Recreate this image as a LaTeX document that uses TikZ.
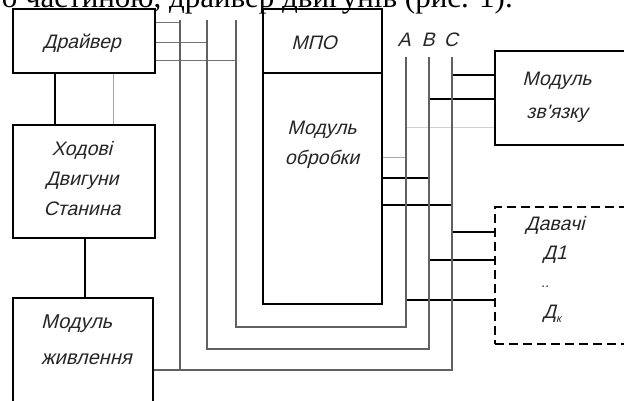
\documentclass[tikz,border=0pt]{standalone}
\usepackage{fontspec}
\setmainfont{Liberation Serif}
\newfontfamily\gost[FakeSlant=0.25]{Liberation Sans}
\begin{document}
\begin{tikzpicture}[x=1pt,y=-1pt,
  box/.style={draw=black, line width=1.3pt, inner sep=0pt},
  dbox/.style={draw=black, line width=1.3pt, inner sep=0pt, dash pattern=on 9pt off 5pt},
  lbl/.style={font=\gost\fontsize{19.5}{30}\selectfont, align=center, inner sep=0pt, text=black!85},
  bus/.style={line width=2.3pt, draw=black!62},
  bw/.style={line width=1.1pt, draw=black},
  fw/.style={line width=1pt, draw=black!55},
  lw/.style={line width=0.8pt, draw=black!35},
  vw/.style={line width=0.7pt, draw=black!18}]
\path[use as bounding box, clip] (0,0) rectangle (624,401);
\fill[white] (0,0) rectangle (624,401);

% cut top text line
\node[anchor=base east, inner sep=0pt, font=\fontsize{31}{33}\selectfont] (toptext) at (513,7.5) {о частиною, драйвер двигунів (рис. 1).};

% boxes
\node[box, minimum width=142pt, minimum height=64pt] (drv) at (84,41) {};
\node[box, minimum width=142pt, minimum height=113pt] (hod) at (84,181.5) {};
\node[box, minimum width=140pt, minimum height=122pt] (pwr) at (83,359) {};
\node[box, minimum width=119pt, minimum height=64pt] (mpoh) at (322.5,41) {};
\node[box, minimum width=119pt, minimum height=231pt] (mpob) at (322.5,188.5) {};
\node[box, minimum width=145pt, minimum height=94pt] (mz) at (567.5,98) {};
\node[dbox, minimum width=145pt, minimum height=137pt] (dv) at (567.5,275.5) {};

% labels
\node[lbl] (tdrv) at (82,43) {Драйвер};
\node[lbl] (thod) at (82,179) {Ходові\\Двигуни\\Станина};
\node[lbl, align=left, anchor=north west, font=\gost\fontsize{20}{36}\selectfont] (tpwr) at (41,315) {Модуль\\живлення};
\node[lbl] (tmpo) at (314,43) {МПО};
\node[lbl] (tmpob) at (322,145) {Модуль\\обробки};
\node[lbl, font=\gost\fontsize{19.5}{33}\selectfont] (tmz) at (557,97) {Модуль\\зв'язку};
\node[lbl, font=\gost\fontsize{19.5}{29}\selectfont] (tdv) at (555,240) {Давачі\\Д1};
\node[lbl, font=\gost\fontsize{14}{14}\selectfont] (tdots) at (545,287) {..};
\node[lbl] (tdk) at (552,314) {Д\raisebox{-4pt}{\fontsize{11}{11}\selectfont к}};
\node[lbl] (tA) at (404,40) {A};
\node[lbl] (tB) at (428,40) {B};
\node[lbl] (tC) at (451,40) {C};

% bus coordinates
\coordinate (t1) at (180,20);
\coordinate (t2) at (207,20);
\coordinate (t3) at (236,20);
\coordinate (a0) at (406,57);
\coordinate (b0) at (429,57);
\coordinate (c0) at (452,57);
\coordinate (a1) at (406,327);
\coordinate (b1) at (429,349);
\coordinate (c1) at (452,370);

% thin wires
\draw[bw] (drv.south -| 55,0) -- (hod.north -| 55,0);
\draw[lw] (drv.south -| 113,0) -- (hod.north -| 113,0);
\draw[bw] (hod.south -| 85,0) -- (pwr.north -| 85,0);

\draw[fw] (drv.east |- 0,23) -- (t1 |- 0,23);
\draw[fw] (drv.east |- 0,43) -- (t2 |- 0,43);
\draw[fw] (drv.east |- 0,61) -- (t3 |- 0,61);

\draw[lw] (mpob.east |- 0,157) -- (a0 |- 0,157);
\draw[bw] (mpob.east |- 0,178) -- (b0 |- 0,178);
\draw[bw] (mpob.east |- 0,205) -- (c0 |- 0,205);

\draw[bw] (c0 |- 0,75) -- (mz.west |- 0,75);
\draw[bw] (b0 |- 0,99) -- (mz.west |- 0,99);
\draw[vw] (a0 |- 0,127) -- (mz.west |- 0,127);

\draw[bw] (c0 |- 0,232) -- (dv.west |- 0,232);
\draw[bw] (b0 |- 0,260) -- (dv.west |- 0,260);
\draw[bw] (a0 |- 0,300) -- (dv.west |- 0,300);

% buses
\draw[bus] (t1) -- (t1 |- c1);
\draw[bus] (pwr.east |- c1) -- (c1) -- (c0);
\draw[bus] (t2) -- (t2 |- b1) -- (b1) -- (b0);
\draw[bus] (t3) -- (t3 |- a1) -- (a1) -- (a0);
\end{tikzpicture}
\end{document}
